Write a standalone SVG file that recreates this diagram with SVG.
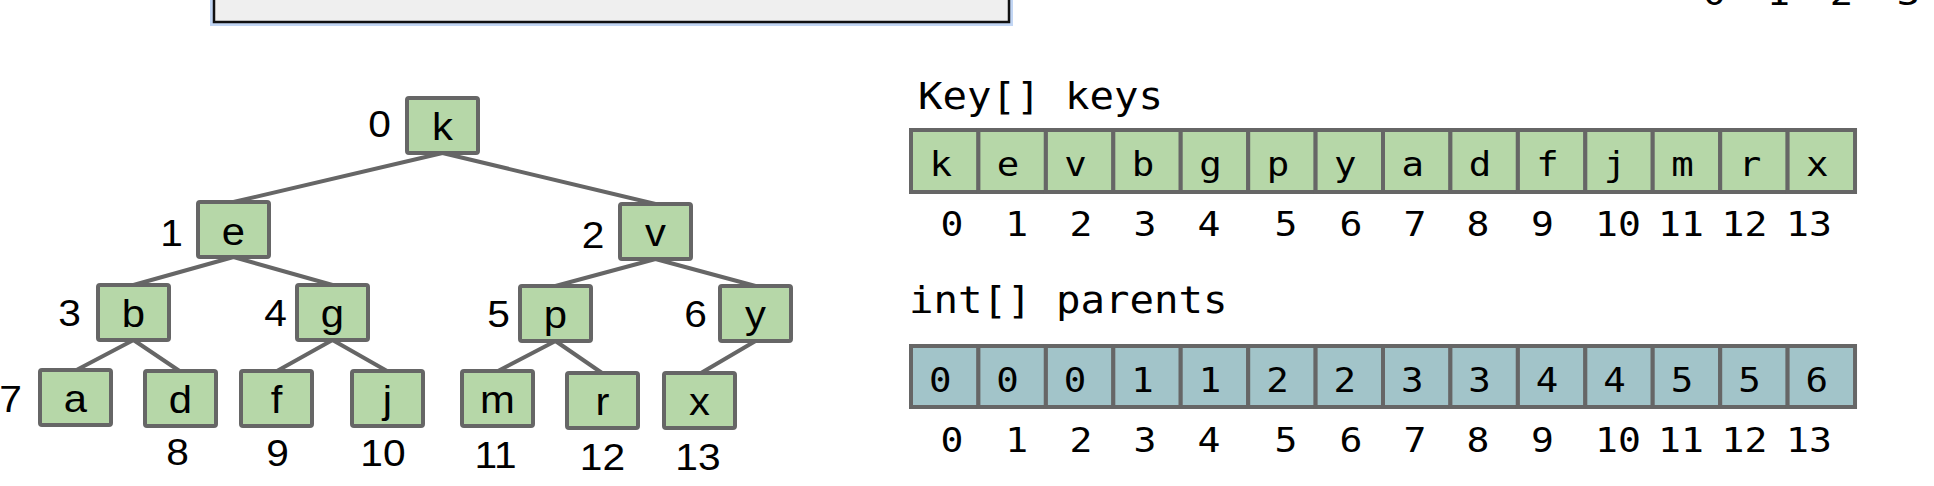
<svg xmlns="http://www.w3.org/2000/svg" width="1934" height="486" viewBox="0 0 1934 486">
<style>
.bg{fill:#ffffff}
.node rect{fill:#b6d7a8;stroke:#666666;stroke-width:4}
.edges line{stroke:#666666;stroke-width:4;stroke-linecap:round}
.sans{font-family:"Liberation Sans",Arial,sans-serif;font-size:37px;fill:#000}
.ltr{font-size:38px}
.mono{font-family:"DejaVu Sans Mono","Liberation Mono",monospace;fill:#000}
.lab{font-size:37px}
.cell{font-size:34px}
.idx{font-size:34px}
.kc rect{fill:#b6d7a8;stroke:#666666;stroke-width:4}
.pc rect{fill:#a2c4c9;stroke:#666666;stroke-width:4}
</style>
<rect class="bg" x="0" y="0" width="1934" height="486"/>

<g id="topbox">
<rect x="214" y="-20" width="795" height="42" fill="none" stroke="#c2d6f4" stroke-width="8"/>
<rect x="214" y="-20" width="795" height="42" fill="#efefef" stroke="#111111" stroke-width="2.5"/>
</g>

<g id="topdigits" class="mono idx" text-anchor="middle">
<text transform="translate(1714.5,4.5) scale(1.14,1)">0</text>
<text transform="translate(1778.5,4.5) scale(1.14,1)">1</text>
<text transform="translate(1841.5,4.5) scale(1.14,1)">2</text>
<text transform="translate(1908.5,4.5) scale(1.14,1)">3</text>
</g>

<g id="connectors" class="edges">
<line x1="442.5" y1="153" x2="233.5" y2="202"/>
<line x1="442.5" y1="153" x2="655.5" y2="204"/>
<line x1="233.5" y1="257" x2="133.5" y2="285"/>
<line x1="233.5" y1="257" x2="332.5" y2="285"/>
<line x1="655.5" y1="259" x2="555.5" y2="286"/>
<line x1="655.5" y1="259" x2="755.5" y2="286"/>
<line x1="133.5" y1="340" x2="76.5" y2="370"/>
<line x1="133.5" y1="340" x2="179.5" y2="371"/>
<line x1="332.5" y1="340" x2="277" y2="371"/>
<line x1="332.5" y1="340" x2="387" y2="371"/>
<line x1="555.5" y1="341" x2="498" y2="371"/>
<line x1="555.5" y1="341" x2="602" y2="373"/>
<line x1="755.5" y1="341" x2="701" y2="373"/>
</g>

<g id="node-k" class="node"><rect x="407" y="98" width="71" height="55" rx="2"/><text class="sans ltr" text-anchor="middle" transform="translate(442.5,140) scale(1.1,1)">k</text><text class="sans" text-anchor="middle" transform="translate(379.5,137) scale(1.1,1)">0</text></g>
<g id="node-e" class="node"><rect x="198" y="202" width="71" height="55" rx="2"/><text class="sans ltr" text-anchor="middle" transform="translate(233.5,244.5) scale(1.1,1)">e</text><text class="sans" text-anchor="middle" transform="translate(171.5,245.5) scale(1.1,1)">1</text></g>
<g id="node-v" class="node"><rect x="620" y="204" width="71" height="55" rx="2"/><text class="sans ltr" text-anchor="middle" transform="translate(655.5,246) scale(1.1,1)">v</text><text class="sans" text-anchor="middle" transform="translate(593,248) scale(1.1,1)">2</text></g>
<g id="node-b" class="node"><rect x="98" y="285" width="71" height="55" rx="2"/><text class="sans ltr" text-anchor="middle" transform="translate(133.5,327) scale(1.1,1)">b</text><text class="sans" text-anchor="middle" transform="translate(69.5,326) scale(1.1,1)">3</text></g>
<g id="node-g" class="node"><rect x="297" y="285" width="71" height="55" rx="2"/><text class="sans ltr" text-anchor="middle" transform="translate(332.5,327) scale(1.1,1)">g</text><text class="sans" text-anchor="middle" transform="translate(275.5,326) scale(1.1,1)">4</text></g>
<g id="node-p" class="node"><rect x="520" y="286" width="71" height="55" rx="2"/><text class="sans ltr" text-anchor="middle" transform="translate(555.5,328) scale(1.1,1)">p</text><text class="sans" text-anchor="middle" transform="translate(498.5,327) scale(1.1,1)">5</text></g>
<g id="node-y" class="node"><rect x="720" y="286" width="71" height="55" rx="2"/><text class="sans ltr" text-anchor="middle" transform="translate(755.5,328) scale(1.1,1)">y</text><text class="sans" text-anchor="middle" transform="translate(695.5,327) scale(1.1,1)">6</text></g>
<g id="node-a" class="node"><rect x="40" y="370" width="71" height="55" rx="2"/><text class="sans ltr" text-anchor="middle" transform="translate(75.5,412) scale(1.1,1)">a</text><text class="sans" text-anchor="middle" transform="translate(10.5,412) scale(1.1,1)">7</text></g>
<g id="node-d" class="node"><rect x="145" y="371" width="71" height="55" rx="2"/><text class="sans ltr" text-anchor="middle" transform="translate(180.5,413) scale(1.1,1)">d</text><text class="sans" text-anchor="middle" transform="translate(177.5,465) scale(1.1,1)">8</text></g>
<g id="node-f" class="node"><rect x="241" y="371" width="71" height="55" rx="2"/><text class="sans ltr" text-anchor="middle" transform="translate(276.5,413) scale(1.1,1)">f</text><text class="sans" text-anchor="middle" transform="translate(277.5,466) scale(1.1,1)">9</text></g>
<g id="node-j" class="node"><rect x="352" y="371" width="71" height="55" rx="2"/><text class="sans ltr" text-anchor="middle" transform="translate(387.5,413) scale(1.1,1)">j</text><text class="sans" text-anchor="middle" transform="translate(383,466) scale(1.1,1)">10</text></g>
<g id="node-m" class="node"><rect x="462" y="371" width="71" height="55" rx="2"/><text class="sans ltr" text-anchor="middle" transform="translate(497.5,413) scale(1.1,1)">m</text><text class="sans" text-anchor="middle" transform="translate(495.5,468) scale(1.1,1)">11</text></g>
<g id="node-r" class="node"><rect x="567" y="373" width="71" height="55" rx="2"/><text class="sans ltr" text-anchor="middle" transform="translate(602.5,415) scale(1.1,1)">r</text><text class="sans" text-anchor="middle" transform="translate(602.5,470) scale(1.1,1)">12</text></g>
<g id="node-x" class="node"><rect x="664" y="373" width="71" height="55" rx="2"/><text class="sans ltr" text-anchor="middle" transform="translate(699.5,415) scale(1.1,1)">x</text><text class="sans" text-anchor="middle" transform="translate(698,470) scale(1.1,1)">13</text></g>

<g id="keys-array">
<text class="mono lab" transform="translate(918,109) scale(1.1,1)">Key[] keys</text>
<g class="kc">
<rect x="911" y="130" width="67.43" height="62"/>
<rect x="978.4" y="130" width="67.43" height="62"/>
<rect x="1045.9" y="130" width="67.43" height="62"/>
<rect x="1113.3" y="130" width="67.43" height="62"/>
<rect x="1180.7" y="130" width="67.43" height="62"/>
<rect x="1248.2" y="130" width="67.43" height="62"/>
<rect x="1315.6" y="130" width="67.43" height="62"/>
<rect x="1383" y="130" width="67.43" height="62"/>
<rect x="1450.4" y="130" width="67.43" height="62"/>
<rect x="1517.9" y="130" width="67.43" height="62"/>
<rect x="1585.3" y="130" width="67.43" height="62"/>
<rect x="1652.7" y="130" width="67.43" height="62"/>
<rect x="1720.2" y="130" width="67.43" height="62"/>
<rect x="1787.6" y="130" width="67.43" height="62"/>
</g>
<g class="mono cell" text-anchor="middle">
<text transform="translate(940.7,176) scale(1.1,1)">k</text>
<text transform="translate(1008.1,176) scale(1.1,1)">e</text>
<text transform="translate(1075.6,176) scale(1.1,1)">v</text>
<text transform="translate(1143,176) scale(1.1,1)">b</text>
<text transform="translate(1210.4,176) scale(1.1,1)">g</text>
<text transform="translate(1277.9,176) scale(1.1,1)">p</text>
<text transform="translate(1345.3,176) scale(1.1,1)">y</text>
<text transform="translate(1412.7,176) scale(1.1,1)">a</text>
<text transform="translate(1480.1,176) scale(1.1,1)">d</text>
<text transform="translate(1547.6,176) scale(1.1,1)">f</text>
<text transform="translate(1615,176) scale(1.1,1)">j</text>
<text transform="translate(1682.4,176) scale(1.1,1)">m</text>
<text transform="translate(1749.9,176) scale(1.1,1)">r</text>
<text transform="translate(1817.3,176) scale(1.1,1)">x</text>
</g>
<g class="mono idx" text-anchor="middle">
<text transform="translate(952,236) scale(1.12,1)">0</text>
<text transform="translate(1016.7,236) scale(1.12,1)">1</text>
<text transform="translate(1081,236) scale(1.12,1)">2</text>
<text transform="translate(1145,236) scale(1.12,1)">3</text>
<text transform="translate(1209,236) scale(1.12,1)">4</text>
<text transform="translate(1286,236) scale(1.12,1)">5</text>
<text transform="translate(1351,236) scale(1.12,1)">6</text>
<text transform="translate(1415,236) scale(1.12,1)">7</text>
<text transform="translate(1478,236) scale(1.12,1)">8</text>
<text transform="translate(1542.5,236) scale(1.12,1)">9</text>
<text transform="translate(1618,236) scale(1.12,1)">10</text>
<text transform="translate(1681,236) scale(1.12,1)">11</text>
<text transform="translate(1744.5,236) scale(1.12,1)">12</text>
<text transform="translate(1809,236) scale(1.12,1)">13</text>
</g>
</g>

<g id="parents-array">
<text class="mono lab" transform="translate(909,313) scale(1.1,1)">int[] parents</text>
<g class="pc">
<rect x="911" y="346" width="67.43" height="61"/>
<rect x="978.4" y="346" width="67.43" height="61"/>
<rect x="1045.9" y="346" width="67.43" height="61"/>
<rect x="1113.3" y="346" width="67.43" height="61"/>
<rect x="1180.7" y="346" width="67.43" height="61"/>
<rect x="1248.2" y="346" width="67.43" height="61"/>
<rect x="1315.6" y="346" width="67.43" height="61"/>
<rect x="1383" y="346" width="67.43" height="61"/>
<rect x="1450.4" y="346" width="67.43" height="61"/>
<rect x="1517.9" y="346" width="67.43" height="61"/>
<rect x="1585.3" y="346" width="67.43" height="61"/>
<rect x="1652.7" y="346" width="67.43" height="61"/>
<rect x="1720.2" y="346" width="67.43" height="61"/>
<rect x="1787.6" y="346" width="67.43" height="61"/>
</g>
<g class="mono cell" text-anchor="middle">
<text transform="translate(940.2,392) scale(1.1,1)">0</text>
<text transform="translate(1007.6,392) scale(1.1,1)">0</text>
<text transform="translate(1075.1,392) scale(1.1,1)">0</text>
<text transform="translate(1142.5,392) scale(1.1,1)">1</text>
<text transform="translate(1209.9,392) scale(1.1,1)">1</text>
<text transform="translate(1277.4,392) scale(1.1,1)">2</text>
<text transform="translate(1344.8,392) scale(1.1,1)">2</text>
<text transform="translate(1412.2,392) scale(1.1,1)">3</text>
<text transform="translate(1479.6,392) scale(1.1,1)">3</text>
<text transform="translate(1547.1,392) scale(1.1,1)">4</text>
<text transform="translate(1614.5,392) scale(1.1,1)">4</text>
<text transform="translate(1681.9,392) scale(1.1,1)">5</text>
<text transform="translate(1749.4,392) scale(1.1,1)">5</text>
<text transform="translate(1816.8,392) scale(1.1,1)">6</text>
</g>
<g class="mono idx" text-anchor="middle">
<text transform="translate(952,452) scale(1.12,1)">0</text>
<text transform="translate(1016.7,452) scale(1.12,1)">1</text>
<text transform="translate(1081,452) scale(1.12,1)">2</text>
<text transform="translate(1145,452) scale(1.12,1)">3</text>
<text transform="translate(1209,452) scale(1.12,1)">4</text>
<text transform="translate(1286,452) scale(1.12,1)">5</text>
<text transform="translate(1351,452) scale(1.12,1)">6</text>
<text transform="translate(1415,452) scale(1.12,1)">7</text>
<text transform="translate(1478,452) scale(1.12,1)">8</text>
<text transform="translate(1542.5,452) scale(1.12,1)">9</text>
<text transform="translate(1618,452) scale(1.12,1)">10</text>
<text transform="translate(1681,452) scale(1.12,1)">11</text>
<text transform="translate(1744.5,452) scale(1.12,1)">12</text>
<text transform="translate(1809,452) scale(1.12,1)">13</text>
</g>
</g>
</svg>
